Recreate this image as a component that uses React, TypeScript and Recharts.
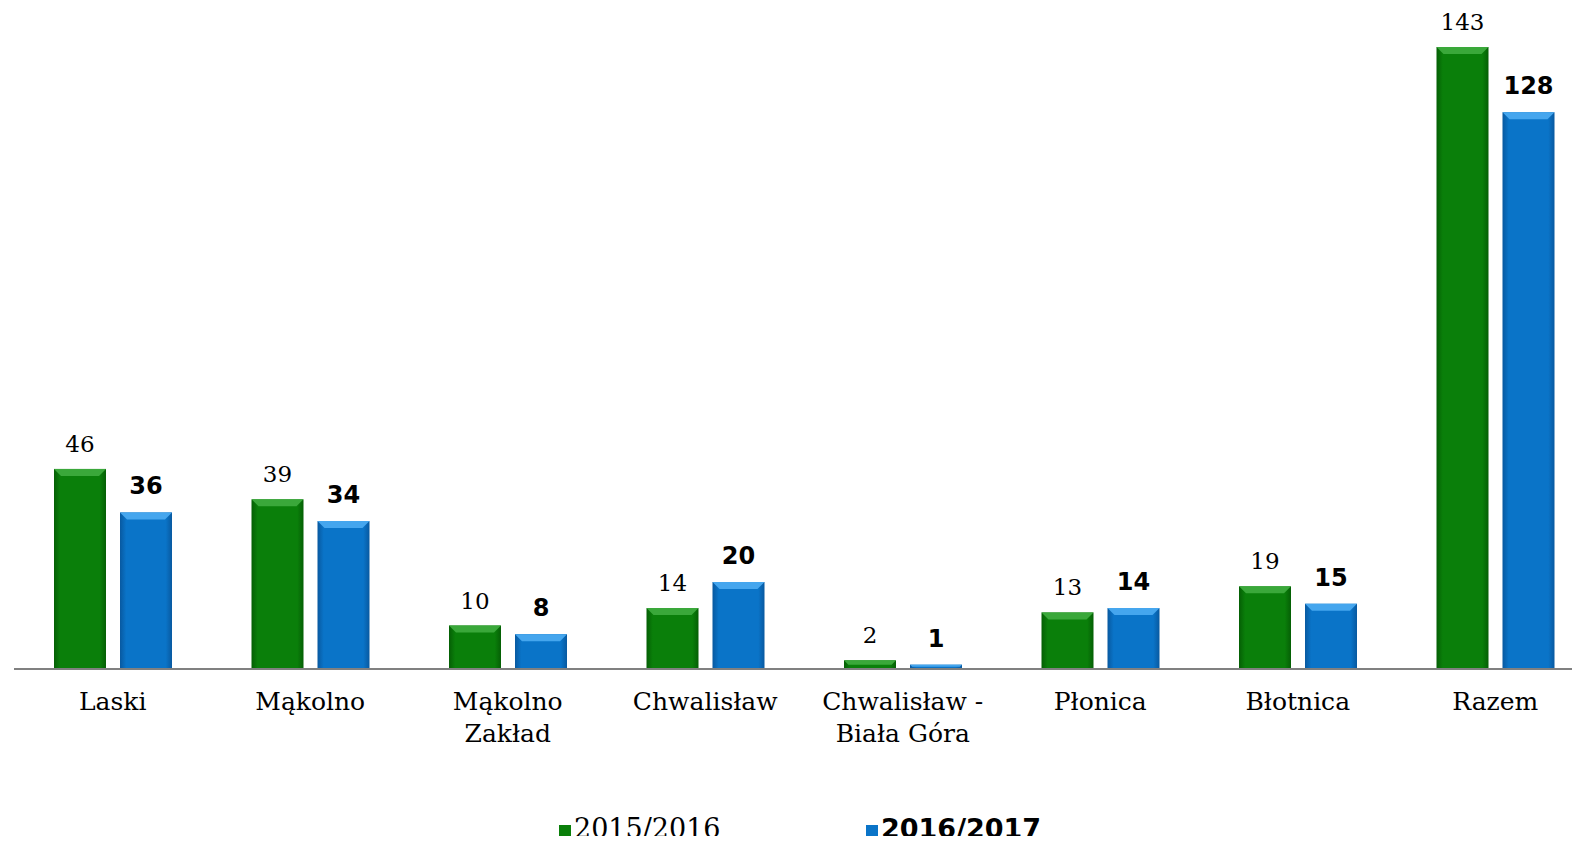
import React from "react"
import { BarChart, Bar, XAxis, YAxis, LabelList } from "recharts"

const categories = [
  "Laski",
  "Mąkolno",
  "Mąkolno\nZakład",
  "Chwalisław",
  "Chwalisław -\nBiała Góra",
  "Płonica",
  "Błotnica",
  "Razem",
]
const season2015 = [46, 39, 10, 14, 2, 13, 19, 143]
const season2016 = [36, 34, 8, 20, 1, 14, 15, 128]
const seriesNames = ["2015/2016", "2016/2017"]

const data = categories.map((name, i) => ({
  name,
  s2015: season2015[i],
  s2016: season2016[i],
}))

const serif = "'DejaVu Serif', serif"
const sans = "'DejaVu Sans', sans-serif"

function BevelBar(props: any) {
  const { x, y, width, height, gradId, topColor } = props
  if (!height || height <= 0) return null
  const b = Math.min(7, height / 2)
  return (
    <g>
      <rect x={x} y={y} width={width} height={height} fill={`url(#${gradId})`} />
      <polygon
        points={`${x},${y} ${x + width},${y} ${x + width - b},${y + b} ${x + b},${y + b}`}
        fill={topColor}
      />
    </g>
  )
}

function CategoryTick(props: any) {
  const { x, y, payload } = props
  const lines = String(payload.value).split("\n")
  return (
    <text x={x} y={y} textAnchor="middle" fontFamily={serif} fontSize={25} fill="#000">
      {lines.map((l, i) => (
        <tspan key={i} x={x} dy={i === 0 ? 33 : 32}>
          {l}
        </tspan>
      ))}
    </text>
  )
}

export default function App() {
  return (
    <div style={{ position: "relative", width: 1580, height: 844, margin: -8, background: "#fff", overflow: "hidden" }}>
      <BarChart
        width={1580}
        height={844}
        data={data}
        margin={{ top: 47, right: -14, left: 14, bottom: 115 }}
        barSize={52}
        barGap={14}
        style={{ overflow: "visible" }}
      >
        <defs>
          <linearGradient id="gGreen" x1="0" y1="0" x2="1" y2="0">
            <stop offset="0" stopColor="#055f05" />
            <stop offset="0.12" stopColor="#0a7f0a" />
            <stop offset="0.88" stopColor="#0a7f0a" />
            <stop offset="1" stopColor="#055f05" />
          </linearGradient>
          <linearGradient id="gBlue" x1="0" y1="0" x2="1" y2="0">
            <stop offset="0" stopColor="#0859a0" />
            <stop offset="0.12" stopColor="#0a74c8" />
            <stop offset="0.88" stopColor="#0a74c8" />
            <stop offset="1" stopColor="#0859a0" />
          </linearGradient>
        </defs>
        <XAxis
          dataKey="name"
          interval={0}
          height={60}
          tickLine={false}
          axisLine={{ stroke: "#808080", strokeWidth: 2 }}
          tick={<CategoryTick />}
        />
        <YAxis hide domain={[0, 143]} allowDataOverflow />
        <Bar
          dataKey="s2015"
          name={seriesNames[0]}
          isAnimationActive={false}
          shape={(p: any) => <BevelBar {...p} gradId="gGreen" topColor="#3aa83a" />}
        >
          <LabelList
            dataKey="s2015"
            position="top"
            offset={17}
            style={{ fontFamily: serif, fontSize: 23, fill: "#000" }}
          />
        </Bar>
        <Bar
          dataKey="s2016"
          name={seriesNames[1]}
          isAnimationActive={false}
          shape={(p: any) => <BevelBar {...p} gradId="gBlue" topColor="#45a6ee" />}
        >
          <LabelList
            dataKey="s2016"
            position="top"
            offset={18}
            style={{ fontFamily: sans, fontSize: 24, fontWeight: "bold", fill: "#000" }}
          />
        </Bar>
      </BarChart>
      <div
        style={{
          position: "absolute",
          top: 813,
          left: 559,
          display: "flex",
          fontFamily: serif,
          fontSize: 27,
          color: "#000",
          lineHeight: "32px",
        }}
      >
        <div style={{ display: "flex", alignItems: "center", width: 307 }}>
          <span style={{ width: 12, height: 12, background: "#0a7f0a", marginRight: 3, marginTop: 4, display: "inline-block" }} />
          <span>{seriesNames[0]}</span>
        </div>
        <div style={{ display: "flex", alignItems: "center" }}>
          <span style={{ width: 12, height: 12, background: "#0a74c8", marginRight: 3, marginTop: 4, display: "inline-block" }} />
          <span style={{ fontFamily: sans, fontWeight: "bold", fontSize: 27 }}>{seriesNames[1]}</span>
        </div>
      </div>
    </div>
  )
}
